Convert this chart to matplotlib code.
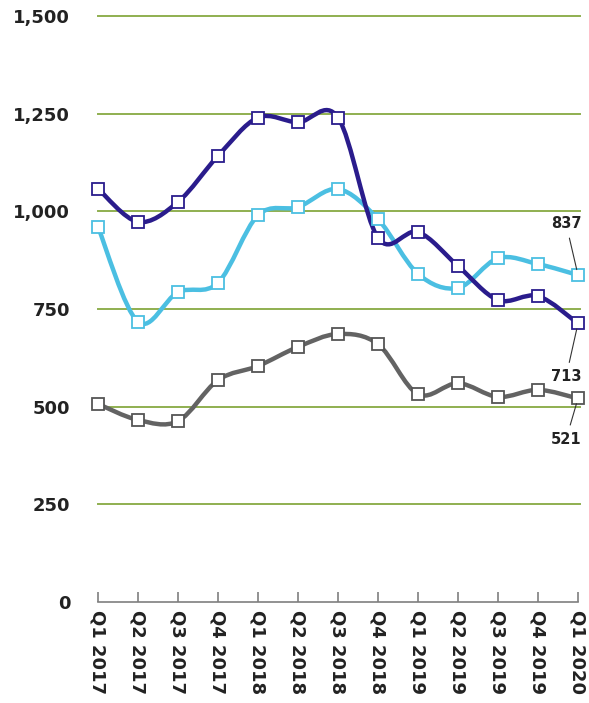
import numpy as np
import matplotlib.pyplot as plt
from matplotlib.path import Path
from matplotlib.patches import PathPatch

quarters = ["Q1 2017", "Q2 2017", "Q3 2017", "Q4 2017", "Q1 2018", "Q2 2018",
            "Q3 2018", "Q4 2018", "Q1 2019", "Q2 2019", "Q3 2019", "Q4 2019",
            "Q1 2020"]
dark_vals = [1058, 973, 1024, 1142, 1240, 1228, 1240, 932, 947, 860, 773, 783, 713]
light_vals = [960, 717, 793, 817, 990, 1011, 1057, 980, 840, 804, 880, 865, 837]
gray_vals = [507, 466, 463, 568, 604, 653, 686, 660, 532, 560, 525, 543, 521]

yticks = [0, 250, 500, 750, 1000, 1250, 1500]


def smooth_path(x, y):
    # Excel-style smoothed line: cubic Bezier with Catmull-Rom control points
    pts = np.column_stack([x, y]).astype(float)
    n = len(pts)
    verts = [pts[0]]
    codes = [Path.MOVETO]
    for i in range(n - 1):
        p0 = pts[i - 1] if i > 0 else pts[i]
        p1 = pts[i]
        p2 = pts[i + 1]
        p3 = pts[i + 2] if i + 2 < n else pts[i + 1]
        c1 = p1 + (p2 - p0) / 6.0
        c2 = p2 - (p3 - p1) / 6.0
        verts += [c1, c2, p2]
        codes += [Path.CURVE4] * 3
    return Path(verts, codes)


fig = plt.figure(figsize=(5.89, 7.03), dpi=100)
ax = fig.add_axes([98 / 589, 1 - 602 / 703, 480 / 589, 586 / 703])

x = np.arange(len(quarters))
series = [
    (gray_vals, "#636363", "#555555"),
    (light_vals, "#4BBFE2", "#4BBFE2"),
    (dark_vals, "#2A1C8C", "#2A1C8C"),
]

for v in yticks[1:]:
    ax.axhline(v, color="#8FAF50", lw=1.4, zorder=1, xmin=0, xmax=1.005, clip_on=False)

for vals, col, mcol in series:
    patch = PathPatch(smooth_path(x, vals), facecolor="none", edgecolor=col,
                      lw=3.2, zorder=3, clip_on=False, capstyle="round", joinstyle="round")
    ax.add_patch(patch)
    ax.plot(x, vals, ls="none", marker="s", ms=8.5, mfc="white", mec=mcol,
            mew=1.3, zorder=4, clip_on=False)

ax.set_xlim(0, 12)
ax.set_ylim(0, 1500)
ax.set_yticks(yticks)
ax.set_yticklabels([f"{v:,}" for v in yticks])
ax.set_xticks(x)
ax.set_xticklabels(quarters, rotation=-90, va="top", ha="center")

for side in ["top", "right", "left"]:
    ax.spines[side].set_visible(False)
ax.spines["bottom"].set_color("#7f7f7f")
ax.spines["bottom"].set_linewidth(1.2)
ax.tick_params(axis="x", direction="in", length=7, color="#7f7f7f", width=1.2,
               pad=6, labelsize=13, labelcolor="#222222")
ax.tick_params(axis="y", length=0, pad=20, labelsize=13, labelcolor="#222222")
for lab in ax.get_xticklabels() + ax.get_yticklabels():
    lab.set_fontweight("bold")

labels = [
    (light_vals, (-8.6, 31.5), "bottom"),
    (dark_vals, (-8.6, -33), "top"),
    (gray_vals, (-8.6, -24), "top"),
]
for vals, off, va in labels:
    ax.annotate(f"{vals[-1]}", xy=(12, vals[-1]), xytext=off, textcoords="offset points",
                ha="center", va=va, fontsize=10.5, fontweight="bold", color="#222222",
                arrowprops=dict(arrowstyle="-", color="#333333", lw=0.8,
                                shrinkA=3, shrinkB=4),
                zorder=5, annotation_clip=False)

fig.savefig("out.png", dpi=100)
